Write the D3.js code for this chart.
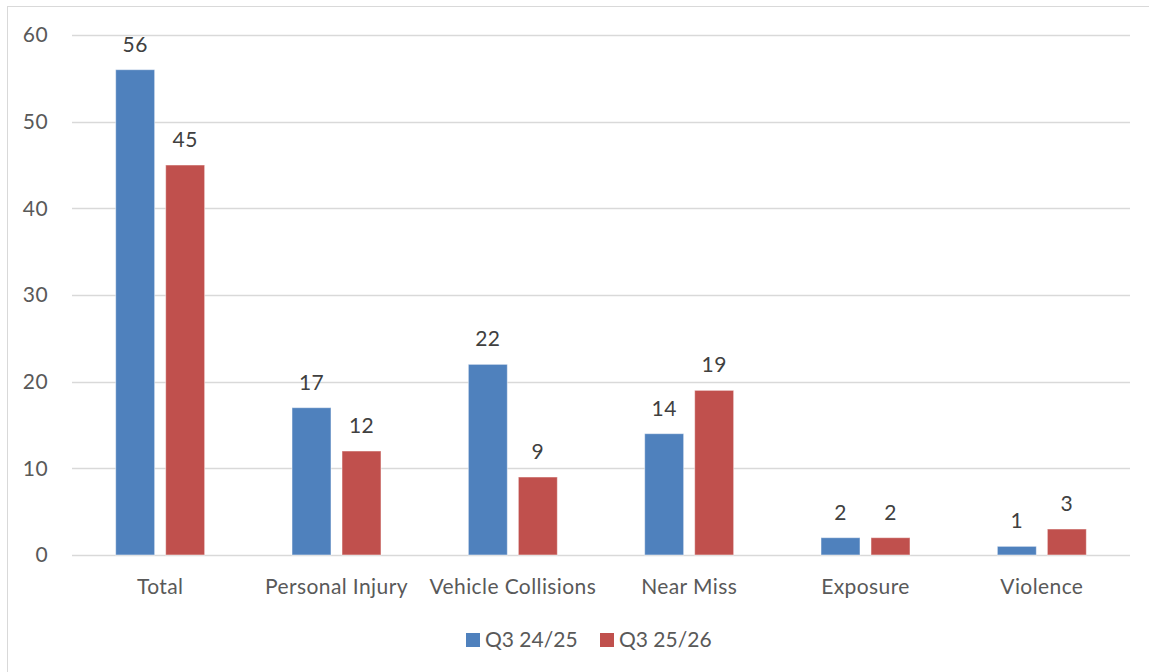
<!DOCTYPE html>
<html>
<head>
<meta charset="utf-8">
<script src="https://cdn.jsdelivr.net/npm/d3@7"></script>
<style>
  body { margin: 0; background: #fff; }
  text { font-family: Lato, "Open Sans", sans-serif; letter-spacing: 0.4px; }
  .legend text { letter-spacing: 0; }
</style>
</head>
<body>
<div id="chart"></div>
<script>
var categories = ['Total', 'Personal Injury', 'Vehicle Collisions', 'Near Miss', 'Exposure', 'Violence'];
var series = ['Q3 24/25', 'Q3 25/26'];
var q3_2425 = [56, 17, 22, 14, 2, 1];
var q3_2526 = [45, 12, 9, 19, 2, 3];
var yTicks = [0, 10, 20, 30, 40, 50, 60];
var colors = ['#4f81bd', '#c0504d'];

var w = 1149
  , h = 672
  , plotL = 72
  , plotR = 1130
  , plotT = 35
  , plotB = 555
  , fs = '21px'
  ;

var svg = d3.select('#chart').append('svg')
            .attr('width', w).attr('height', h);

// chart frame, runs off the right/bottom edge like the original
svg.append('rect')
  .attr('x', 7.5).attr('y', 6.5)
  .attr('width', w + 20).attr('height', h + 20)
  .attr('fill', 'none').attr('stroke', '#d9d9d9');

var x = d3.scaleBand().domain(categories).range([plotL, plotR]).padding(0);
var inner = d3.scaleBand().domain(series).range([0, 89]).paddingInner(0.22);
var y = d3.scaleLinear().domain([0, 60]).range([plotB, plotT]);

// grid
svg.append('g').selectAll('line').data(yTicks).enter()
  .append('line')
  .attr('x1', plotL).attr('x2', plotR)
  .attr('y1', function (d) { return Math.round(y(d)) + 0.5; })
  .attr('y2', function (d) { return Math.round(y(d)) + 0.5; })
  .attr('stroke', '#d9d9d9').attr('stroke-width', 1.5);

var yAxis = svg.append('g')
  .attr('transform', 'translate(' + (plotL - 24) + ',0)')
  .call(d3.axisLeft(y).tickValues(yTicks).tickSize(0).tickPadding(0));
yAxis.select('.domain').remove();
yAxis.selectAll('text').attr('fill', '#595959').style('font-size', fs)
  .style('font-family', 'Lato, sans-serif');

var xAxis = svg.append('g')
  .attr('transform', 'translate(0,' + plotB + ')')
  .call(d3.axisBottom(x).tickSize(0).tickPadding(24));
xAxis.select('.domain').remove();
xAxis.selectAll('text').attr('fill', '#595959').style('font-size', fs)
  .style('font-family', 'Lato, sans-serif');

var rows = categories.map(function (c, i) {
  return { cat: c, values: [
    { s: series[0], v: q3_2425[i], c: colors[0] },
    { s: series[1], v: q3_2526[i], c: colors[1] }
  ] };
});

var groups = svg.selectAll('g.cat').data(rows).enter()
  .append('g').attr('class', 'cat')
  .attr('transform', function (d) {
    return 'translate(' + (x(d.cat) + (x.bandwidth() - 89) / 2) + ',0)';
  });

groups.selectAll('rect').data(function (d) { return d.values; }).enter()
  .append('rect')
  .attr('x', function (d) { return inner(d.s); })
  .attr('width', inner.bandwidth())
  .attr('y', function (d) { return y(d.v); })
  .attr('height', function (d) { return y(0) - y(d.v); })
  .attr('fill', function (d) { return d.c; })
  .attr('stroke', 'rgba(255,255,255,0.5)').attr('stroke-width', 1);

groups.selectAll('text.lbl').data(function (d) { return d.values; }).enter()
  .append('text').attr('class', 'lbl')
  .attr('x', function (d) { return inner(d.s) + inner.bandwidth() / 2; })
  .attr('y', function (d) { return y(d.v) - 18; })
  .attr('text-anchor', 'middle')
  .attr('fill', '#404040').style('font-size', fs)
  .text(function (d) { return d.v; });

// legend
var legend = svg.append('g').attr('class', 'legend').attr('transform', 'translate(466,633)');
var items = legend.selectAll('g').data(series).enter()
  .append('g')
  .attr('transform', function (d, i) { return 'translate(' + (i * 134) + ',0)'; });
items.append('rect').attr('width', 14).attr('height', 14)
  .attr('fill', function (d, i) { return colors[i]; });
items.append('text').attr('x', 19).attr('y', 14)
  .attr('fill', '#595959').style('font-size', fs)
  .text(function (d) { return d; });
</script>
</body>
</html>
